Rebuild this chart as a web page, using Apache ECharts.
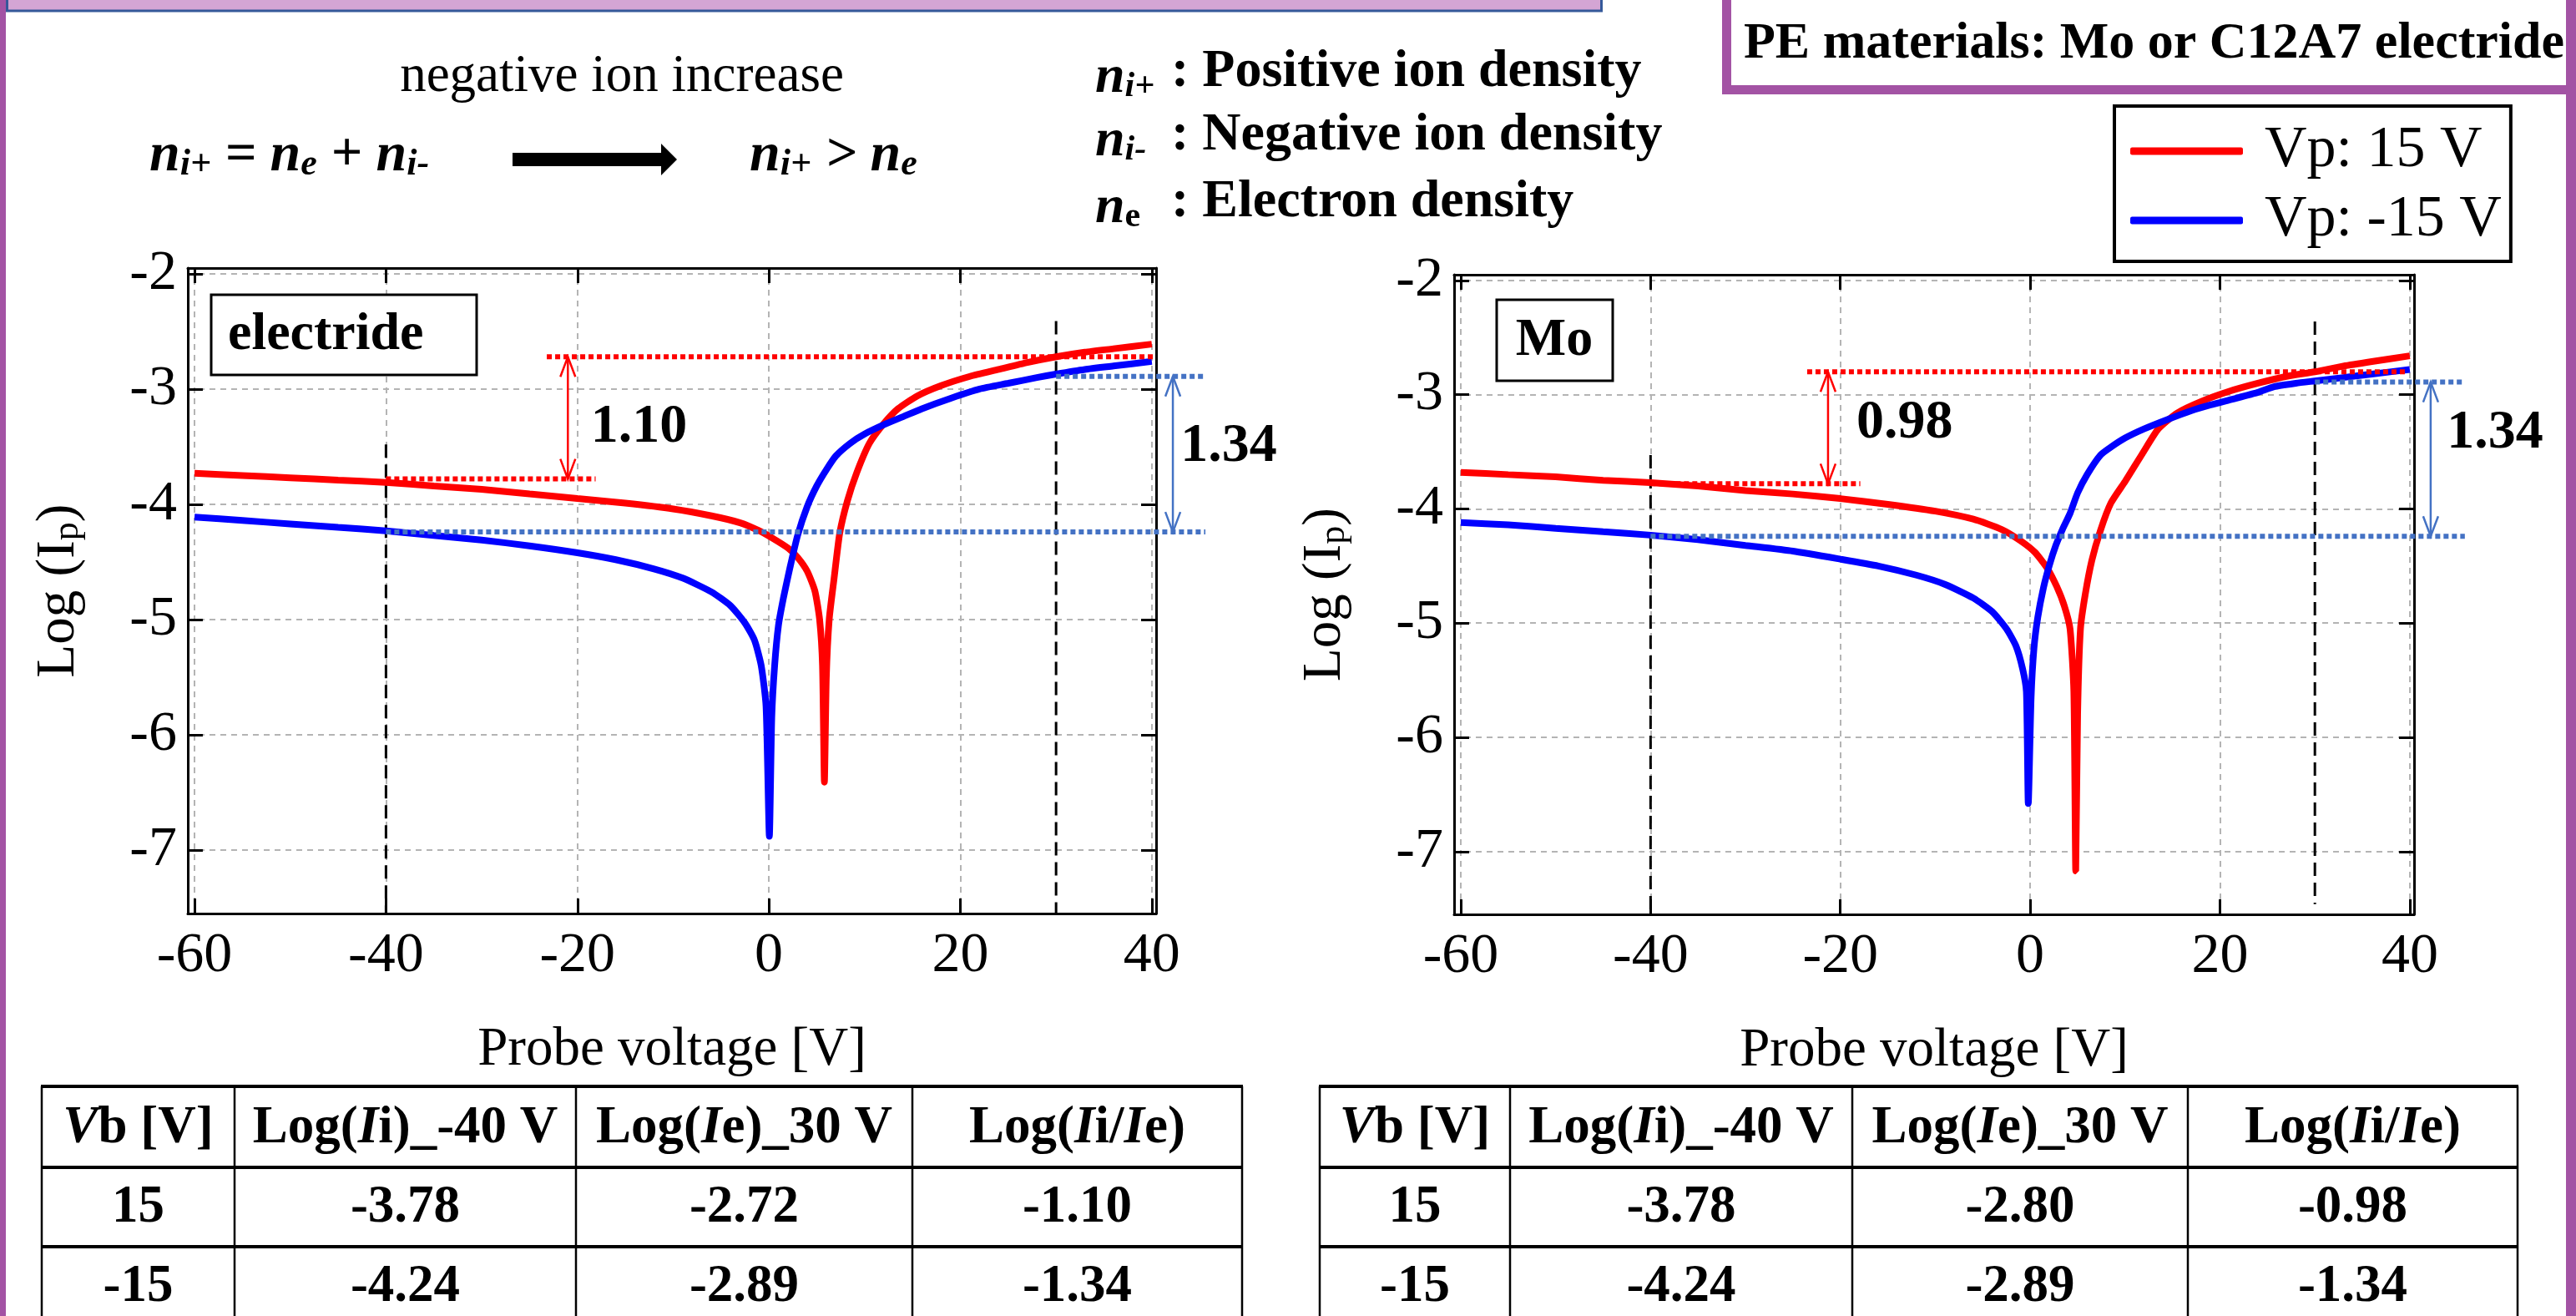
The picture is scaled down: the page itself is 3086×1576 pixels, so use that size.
<!DOCTYPE html>
<html>
<head>
    <meta charset="utf-8"/>
    <title>Log(Ip) - Probe voltage</title>
    <style>
        html, body {margin: 0; padding: 0; background: #fff;}
        #main {width: 3086px; height: 1576px;}
    </style>
</head>
<body>
<div id="main"></div>
<script src="https://cdn.jsdelivr.net/npm/echarts@6/dist/echarts.min.js"></script>
<script>
    // ---- data ----
    const xTicks = [-60, -40, -20, 0, 20, 40];
    const yTicks = [-7, -6, -5, -4, -3, -2];

    // electride, Vp 15 V
    const elecV15X = [-60,-55,-50,-45,-40,-35,-30,-25,-20,-15,-10,-6,-3,-1,0.5,2,3,4,4.8,5.3,5.6,5.8,6.0,6.3,6.8,7.4,8.2,9.2,10.5,12,13.5,15.5,18,21,24,27,30,33,36,40];
    const elecV15Y = [-3.73,-3.75,-3.77,-3.79,-3.81,-3.84,-3.87,-3.91,-3.95,-3.99,-4.04,-4.10,-4.16,-4.23,-4.30,-4.38,-4.46,-4.58,-4.75,-5.0,-5.4,-6.41,-5.5,-5.0,-4.65,-4.25,-3.97,-3.72,-3.47,-3.30,-3.17,-3.06,-2.97,-2.89,-2.83,-2.77,-2.72,-2.68,-2.65,-2.61];
    // electride, Vp -15 V
    const elecVm15X = [-60,-55,-50,-45,-40,-35,-30,-25,-20,-16,-12,-9,-6,-4,-2.5,-1.5,-0.8,-0.3,0.05,0.3,0.6,1.0,1.5,2.2,3.0,4.0,5.0,6.0,7.0,8.5,10,12,14,16,19,22,25,28,30,33,36,40];
    const elecVm15Y = [-4.11,-4.14,-4.17,-4.20,-4.23,-4.27,-4.31,-4.36,-4.42,-4.48,-4.56,-4.64,-4.76,-4.88,-5.03,-5.18,-5.40,-5.75,-6.88,-5.85,-5.40,-5.05,-4.82,-4.55,-4.27,-4.02,-3.84,-3.70,-3.58,-3.47,-3.39,-3.31,-3.24,-3.17,-3.08,-3.00,-2.95,-2.90,-2.87,-2.83,-2.80,-2.76];
    // Mo, Vp 15 V
    const moV15X = [-60,-55,-50,-45,-40,-35,-30,-25,-20,-15,-10,-6,-3,-1,0.5,1.8,2.8,3.6,4.2,4.6,4.8,5.0,5.3,5.8,6.5,7.4,8.5,10,11.8,13.5,15.5,18,21,24,27,30,33,36,40];
    const moV15Y = [-3.68,-3.70,-3.72,-3.75,-3.77,-3.80,-3.84,-3.87,-3.91,-3.96,-4.02,-4.09,-4.18,-4.28,-4.38,-4.52,-4.68,-4.85,-5.05,-5.6,-7.17,-5.8,-5.05,-4.75,-4.45,-4.19,-3.95,-3.76,-3.52,-3.30,-3.16,-3.06,-2.97,-2.90,-2.84,-2.80,-2.75,-2.71,-2.66];
    // Mo, Vp -15 V
    const moVm15X = [-60,-55,-50,-45,-40,-35,-30,-25,-20,-16,-12,-9,-6,-4,-2.5,-1.5,-0.8,-0.4,-0.2,0.1,0.4,0.8,1.4,2.0,2.7,3.4,4.2,5.0,6.0,7.4,8.5,10,12,14.4,17,19,21.3,24,25.7,28,30,33,36,40];
    const moVm15Y = [-4.12,-4.14,-4.17,-4.20,-4.23,-4.27,-4.32,-4.37,-4.44,-4.50,-4.58,-4.66,-4.78,-4.90,-5.05,-5.20,-5.40,-5.60,-6.58,-5.65,-5.22,-4.95,-4.69,-4.50,-4.32,-4.18,-4.04,-3.86,-3.70,-3.53,-3.46,-3.38,-3.30,-3.22,-3.14,-3.09,-3.04,-2.98,-2.93,-2.90,-2.88,-2.85,-2.82,-2.78];

    // table values (rows: Vb 15, -15)
    const biasV = [15, -15];
    const elecLogIi = [-3.78, -4.24];
    const elecLogIe = [-2.72, -2.89];
    const elecRatio = [-1.10, -1.34];
    const moLogIi = [-3.78, -4.24];
    const moLogIe = [-2.80, -2.89];
    const moRatio = [-0.98, -1.34];
    const tableHeader = ['{bi|V}{b|b [V]}', '{b|Log(}{bi|I}{b|i)_-40 V}', '{b|Log(}{bi|I}{b|e)_30 V}', '{b|Log(}{bi|I}{b|i/}{bi|I}{b|e)}'];

    const seriesNames = ['Vp: 15 V', 'Vp: -15 V'];
    const FONT = "'Liberation Serif', 'Times New Roman', serif";
    const purple = '#A353A4';

    const grids = [
        {left: 225, top: 321, width: 1160, height: 773},
        {left: 1742, top: 329, width: 1150, height: 766}
    ];

    // styles of the annotation segments: 0 red dots, 1 blue dots, 2 red arrow, 3 blue arrow, 4 black dashes
    const segStyles = [
        {color: '#ff0000', width: 6, dash: [6, 4]},
        {color: '#4472C4', width: 6, dash: [6, 4]},
        {color: '#ff0000', width: 2.5, dash: null, arrow: true},
        {color: '#4472C4', width: 2.5, dash: null, arrow: true},
        {color: '#000000', width: 3, dash: [16, 8]}
    ];

    function zip(xs, ys) {
        return xs.map(function (x, i) { return [x, ys[i]]; });
    }

    function font(size, weight, style) {
        return (style || '') + ' ' + (weight || '') + ' ' + size + 'px ' + FONT;
    }

    function axesFor(g) {
        let tick = {inside: true, length: 18, lineStyle: {color: '#000', width: 3}};
        let line = {onZero: false, lineStyle: {color: '#000', width: 3}};
        let grid = {show: true, lineStyle: {color: '#b4b4b4', width: 2, type: [7, 6]}};
        let x = [
            {type: 'value', gridIndex: g, min: -60.7, max: 40.45, position: 'bottom',
                axisLine: line, axisTick: Object.assign({customValues: xTicks}, tick),
                axisLabel: {customValues: xTicks, margin: 17, color: '#000', fontSize: 68, fontFamily: FONT},
                splitLine: grid,
                name: 'Probe voltage [V]', nameLocation: 'middle', nameGap: 131,
                nameTextStyle: {color: '#000', fontSize: 65, fontFamily: FONT}},
            {type: 'value', gridIndex: g, min: -60.7, max: 40.45, position: 'top',
                axisLine: line, axisTick: Object.assign({customValues: xTicks}, tick),
                axisLabel: {show: false}, splitLine: {show: false}}
        ];
        let y = [
            {type: 'value', gridIndex: g, min: -7.55, max: -1.95, position: 'left',
                axisLine: line, axisTick: Object.assign({customValues: yTicks}, tick),
                axisLabel: {customValues: yTicks, margin: 13, color: '#000', fontSize: 68, fontFamily: FONT},
                splitLine: grid,
                name: '{n|Log (I}{s|p}{n|)}', nameLocation: 'middle', nameGap: 122,
                nameTextStyle: {rich: {
                    n: {fontSize: 65, fontFamily: FONT, color: '#000', lineHeight: 65, verticalAlign: 'top', padding: [0, 0, 8, 0]},
                    s: {fontSize: 44, fontFamily: FONT, color: '#000', lineHeight: 44, verticalAlign: 'bottom'}
                }}},
            {type: 'value', gridIndex: g, min: -7.55, max: -1.95, position: 'right',
                axisLine: line, axisTick: Object.assign({customValues: yTicks}, tick),
                axisLabel: {show: false}, splitLine: {show: false}}
        ];
        return {x: x, y: y};
    }

    function curve(g, name, xs, ys, color) {
        return {name: name, type: 'line', xAxisIndex: g * 2, yAxisIndex: g * 2,
            data: zip(xs, ys), symbol: 'none', showSymbol: false, smooth: 0.2,
            lineStyle: {color: color, width: 8}, itemStyle: {color: color},
            z: 5, silent: true};
    }

    function renderSeg(params, api) {
        let p1 = api.coord([api.value(0), api.value(1)]);
        let p2 = api.coord([api.value(2), api.value(3)]);
        let st = segStyles[api.value(4)];
        let stroke = {stroke: st.color, lineWidth: st.width, fill: 'none', lineDash: st.dash};
        let kids = [{type: 'line', shape: {x1: p1[0], y1: p1[1], x2: p2[0], y2: p2[1]}, style: stroke}];
        if (st.arrow) {
            // p1 is the lower end, p2 the upper end
            let w = 9, h = 24;
            kids.push({type: 'polyline', shape: {points: [[p2[0] - w, p2[1] + h], [p2[0], p2[1]], [p2[0] + w, p2[1] + h]]}, style: stroke});
            kids.push({type: 'polyline', shape: {points: [[p1[0] - w, p1[1] - h], [p1[0], p1[1]], [p1[0] + w, p1[1] - h]]}, style: stroke});
        }
        return {type: 'group', children: kids};
    }

    // dotted levels, arrows, dashed markers and the difference labels
    function annotations(g, logIi, logIe, ratio, geo) {
        let axes = {xAxisIndex: g * 2, yAxisIndex: g * 2, coordinateSystem: 'cartesian2d', clip: false, silent: true};
        let labelText = ratio.map(function (r) { return Math.abs(r).toFixed(2); });
        return [
            Object.assign({type: 'custom', name: 'levels' + g, z: 6, renderItem: renderSeg,
                encode: {x: [0, 2], y: [1, 3]},
                data: [
                    [geo.redUp[0], logIe[0], geo.redUp[1], logIe[0], 0],
                    [geo.redLow[0], logIi[0], geo.redLow[1], logIi[0], 0],
                    [geo.blueUp[0], logIe[1], geo.blueUp[1], logIe[1], 1],
                    [geo.blueLow[0], logIi[1], geo.blueLow[1], logIi[1], 1],
                    [geo.redArrow, logIi[0], geo.redArrow, logIe[0], 2],
                    [geo.blueArrow, logIi[1], geo.blueArrow, logIe[1], 3]
                ]}, axes),
            Object.assign({type: 'custom', name: 'markers' + g, z: 3, renderItem: renderSeg,
                encode: {x: [0, 2], y: [1, 3]},
                data: [
                    [-40, geo.dash40[0], -40, geo.dash40[1], 4],
                    [30, geo.dash30[0], 30, geo.dash30[1], 4]
                ]}, axes),
            Object.assign({type: 'custom', name: 'labels' + g, z: 7,
                encode: {x: 0, y: 1},
                renderItem: function (params, api) {
                    let p = api.coord([api.value(0), api.value(1)]);
                    return {type: 'text', x: p[0], y: p[1],
                        style: {text: labelText[params.dataIndex], fill: '#000', font: font(66, 'bold'),
                            align: 'left', verticalAlign: 'middle'}};
                },
                data: [geo.lab1, geo.lab2]}, axes)
        ];
    }

    function text(x, y, str, f, align, z) {
        return {type: 'text', x: x, y: y, z: z || 2,
            style: {text: str, font: f, fill: '#000', align: align || 'left', verticalAlign: 'middle'}};
    }

    function richText(x, y, str, rich, align, z) {
        return {type: 'text', x: x, y: y, z: z || 2,
            style: {text: str, rich: rich, fill: '#000', align: align || 'left', verticalAlign: 'middle'}};
    }

    function line(x1, y1, x2, y2, w) {
        return {type: 'line', z: 2, shape: {x1: x1, y1: y1, x2: x2, y2: y2}, style: {stroke: '#000', lineWidth: w}};
    }

    function table(cols, logIi, logIe, ratio) {
        let out = [];
        let rowsY = [1301, 1398, 1493];
        let textY = [1352, 1447, 1542];
        let rich = {
            b: {font: font(63, 'bold'), fill: '#000'},
            bi: {font: font(63, 'bold', 'italic'), fill: '#000'}
        };
        rowsY.forEach(function (y) { out.push(line(cols[0] - 1, y, cols[4] + 1, y, 4)); });
        cols.forEach(function (x) { out.push(line(x, 1301, x, 1600, 2.5)); });
        for (let c = 0; c < 4; c++) {
            let cx = (cols[c] + cols[c + 1]) / 2;
            out.push(richText(cx, textY[0], tableHeader[c], rich, 'center'));
        }
        for (let r = 0; r < 2; r++) {
            let cells = [String(biasV[r]), logIi[r].toFixed(2), logIe[r].toFixed(2), ratio[r].toFixed(2)];
            for (let c = 0; c < 4; c++) {
                let cx = (cols[c] + cols[c + 1]) / 2;
                out.push(text(cx, textY[r + 1], cells[c], font(63, 'bold'), 'center'));
            }
        }
        return out;
    }

    // ---- slide decorations and texts ----
    let subRich = function (size, sub, drop) {
        return {
            n: {font: font(size, 'bold', 'italic'), fill: '#000', lineHeight: size, verticalAlign: 'top', padding: [0, 0, drop, 0]},
            o: {font: font(size, 'bold', 'italic'), fill: '#000', lineHeight: size, verticalAlign: 'top', padding: [0, 0, drop, 0]},
            s: {font: font(sub, 'bold', 'italic'), fill: '#000', lineHeight: sub, verticalAlign: 'bottom'},
            e: {font: font(sub, 'bold'), fill: '#000', lineHeight: sub, verticalAlign: 'bottom'}
        };
    };

    let graphics = [
        {type: 'rect', z: 1, shape: {x: 0, y: 0, width: 7, height: 1576}, style: {fill: purple}},
        {type: 'rect', z: 1, shape: {x: 8.5, y: -10, width: 1910, height: 23}, style: {fill: '#D4A5D4', stroke: '#35599A', lineWidth: 3}},
        {type: 'rect', z: 1, shape: {x: 2068.5, y: -20, width: 1100, height: 127.5}, style: {fill: '#fff', stroke: purple, lineWidth: 11}},
        text(2089, 53, 'PE materials: Mo or C12A7 electride', font(62, 'bold'), 'left', 2),
        {type: 'rect', z: 3, shape: {x: 3074, y: 0, width: 12, height: 1576}, style: {fill: purple}},

        text(745, 92, 'negative ion increase', font(63), 'center'),
        richText(179, 187, '{n|n}{s|i+}{o| = }{n|n}{s|e}{o| + }{n|n}{s|i-}', subRich(66, 44, 19)),
        {type: 'polygon', z: 2, shape: {points: [[614, 183], [792, 183], [792, 172], [811, 191], [792, 210], [792, 199], [614, 199]]}, style: {fill: '#000'}},
        richText(898, 187, '{n|n}{s|i+}{o| > }{n|n}{s|e}', subRich(66, 44, 19)),

        richText(1312, 93, '{n|n}{s|i+}', subRich(64, 42, 10)),
        richText(1312, 169, '{n|n}{s|i-}', subRich(64, 42, 10)),
        richText(1312, 249, '{n|n}{e|e}', subRich(64, 42, 10)),
        text(1403, 86, ': Positive ion density', font(64, 'bold')),
        text(1403, 162, ': Negative ion density', font(64, 'bold')),
        text(1403, 242, ': Electron density', font(64, 'bold')),

        {type: 'rect', z: 10, shape: {x: 253, y: 353, width: 318, height: 96}, style: {fill: '#fff', stroke: '#000', lineWidth: 3}},
        text(273, 401, 'electride', font(64, 'bold'), 'left', 11),
        {type: 'rect', z: 10, shape: {x: 1793, y: 359, width: 139, height: 97}, style: {fill: '#fff', stroke: '#000', lineWidth: 3}},
        text(1862, 408, 'Mo', font(64, 'bold'), 'center', 11)
    ];
    graphics = graphics.concat(table([50, 281, 690, 1093, 1488], elecLogIi, elecLogIe, elecRatio));
    graphics = graphics.concat(table([1581, 1809, 2219, 2621, 3016], moLogIi, moLogIe, moRatio));

    // ---- chart ----
    let a0 = axesFor(0), a1 = axesFor(1);
    let series = [
        curve(0, seriesNames[0], elecV15X, elecV15Y, '#ff0000'),
        curve(0, seriesNames[1], elecVm15X, elecVm15Y, '#0000ff'),
        curve(1, seriesNames[0], moV15X, moV15Y, '#ff0000'),
        curve(1, seriesNames[1], moVm15X, moVm15Y, '#0000ff')
    ];
    series = series.concat(annotations(0, elecLogIi, elecLogIe, elecRatio, {
        redUp: [-23.2, 40.3], redLow: [-40, -18.1], blueUp: [30, 45.6], blueLow: [-40, 45.6],
        redArrow: -21.0, blueArrow: 42.2, dash40: [-3.48, -7.55], dash30: [-2.41, -7.55],
        lab1: [-18.6, -3.33], lab2: [43.0, -3.50]
    }));
    series = series.concat(annotations(1, moLogIi, moLogIe, moRatio, {
        redUp: [-23.5, 39.6], redLow: [-40, -17.9], blueUp: [30, 45.8], blueLow: [-40, 45.8],
        redArrow: -21.3, blueArrow: 42.2, dash40: [-3.53, -7.55], dash30: [-2.36, -7.46],
        lab1: [-18.3, -3.25], lab2: [43.9, -3.34]
    }));

    let myChart = echarts.init(document.getElementById('main'));
    let option = {
        animation: false,
        backgroundColor: '#fff',
        textStyle: {fontFamily: FONT},
        grid: grids,
        xAxis: a0.x.concat(a1.x),
        yAxis: a0.y.concat(a1.y),
        legend: {
            orient: 'vertical', left: 2533, top: 127,
            data: seriesNames, icon: 'roundRect', itemWidth: 135, itemHeight: 9, itemGap: 13,
            padding: [19, 11, 14, 19], borderColor: '#000', borderWidth: 4, backgroundColor: '#fff',
            selectedMode: false,
            textStyle: {fontSize: 70, fontFamily: FONT, color: '#000', lineHeight: 70, padding: [0, 0, 0, 21]}
        },
        graphic: graphics,
        series: series
    };
    myChart.setOption(option);
</script>
</body>
</html>
